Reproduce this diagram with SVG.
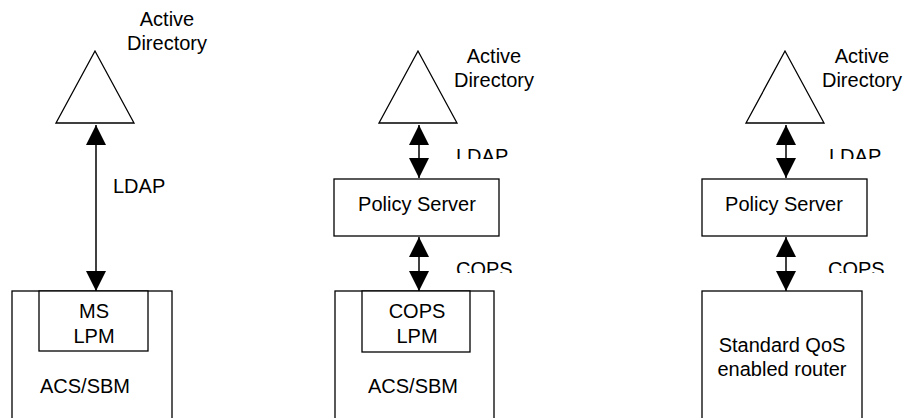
<svg xmlns="http://www.w3.org/2000/svg" width="905" height="418" viewBox="0 0 905 418">
<style>
text{font-family:"Liberation Sans",Arial,sans-serif;font-size:20px;fill:#000}
.m{text-anchor:middle}
.s{fill:#fff;stroke:#000;stroke-width:1.3}
.c{stroke:#000;stroke-width:1.5;fill:none;marker-start:url(#a);marker-end:url(#a)}
</style>
<defs>
<marker id="a" markerUnits="userSpaceOnUse" markerWidth="20" markerHeight="20" refX="20" refY="10" orient="auto-start-reverse" viewBox="0 0 20 20">
<path d="M0,0L20,10L0,20Z" fill="#000"/>
</marker>
<clipPath id="k1"><rect x="440" y="140" width="100" height="19"/></clipPath>
<clipPath id="k2"><rect x="440" y="255" width="100" height="18"/></clipPath>
<clipPath id="k3"><rect x="810" y="140" width="95" height="19"/></clipPath>
<clipPath id="k4"><rect x="810" y="255" width="95" height="18"/></clipPath>
</defs>

<g id="ad1">
<polygon class="s" points="95,51 56,123 134,123"/>
<text class="m" x="167" y="26">Active</text>
<text class="m" x="167" y="50">Directory</text>
</g>
<g id="acs1">
<rect class="s" x="12" y="291" width="160" height="140"/>
<rect class="s" x="39" y="291" width="109" height="60"/>
<text class="m" x="94" y="318">MS</text>
<text class="m" x="94" y="343">LPM</text>
<text x="40" y="393">ACS/SBM</text>
</g>

<g id="ad2">
<polygon class="s" points="418,51 379,123 457,123"/>
<text class="m" x="494" y="63">Active</text>
<text class="m" x="494" y="87">Directory</text>
</g>
<g id="ps2">
<rect class="s" x="334" y="179" width="165" height="57"/>
<text class="m" x="417" y="211">Policy Server</text>
</g>
<g id="acs2">
<rect class="s" x="335" y="291" width="159" height="140"/>
<rect class="s" x="362" y="291" width="108" height="61"/>
<text class="m" x="417" y="318">COPS</text>
<text class="m" x="417" y="343">LPM</text>
<text x="368" y="393">ACS/SBM</text>
</g>

<g id="ad3">
<polygon class="s" points="785,51 746,123 824,123"/>
<text class="m" x="862" y="63">Active</text>
<text class="m" x="862" y="87">Directory</text>
</g>
<g id="ps3">
<rect class="s" x="702" y="179" width="165" height="57"/>
<text class="m" x="784" y="211">Policy Server</text>
</g>
<g id="rt3">
<rect class="s" x="702" y="291" width="160" height="140"/>
<text class="m" x="782" y="352">Standard QoS</text>
<text class="m" x="782" y="376">enabled router</text>
</g>

<g id="connectors">
<line class="c" x1="96" y1="125" x2="96" y2="291"/>
<text x="113" y="193">LDAP</text>
<line class="c" x1="419" y1="125" x2="419" y2="178"/>
<text x="456" y="162.5" clip-path="url(#k1)">LDAP</text>
<line class="c" x1="419" y1="237" x2="419" y2="291"/>
<text x="456" y="275.5" clip-path="url(#k2)">COPS</text>
<line class="c" x1="786" y1="125" x2="786" y2="178"/>
<text x="829" y="162.5" clip-path="url(#k3)">LDAP</text>
<line class="c" x1="786" y1="237" x2="786" y2="291"/>
<text x="828" y="275.5" clip-path="url(#k4)">COPS</text>
</g>
</svg>
